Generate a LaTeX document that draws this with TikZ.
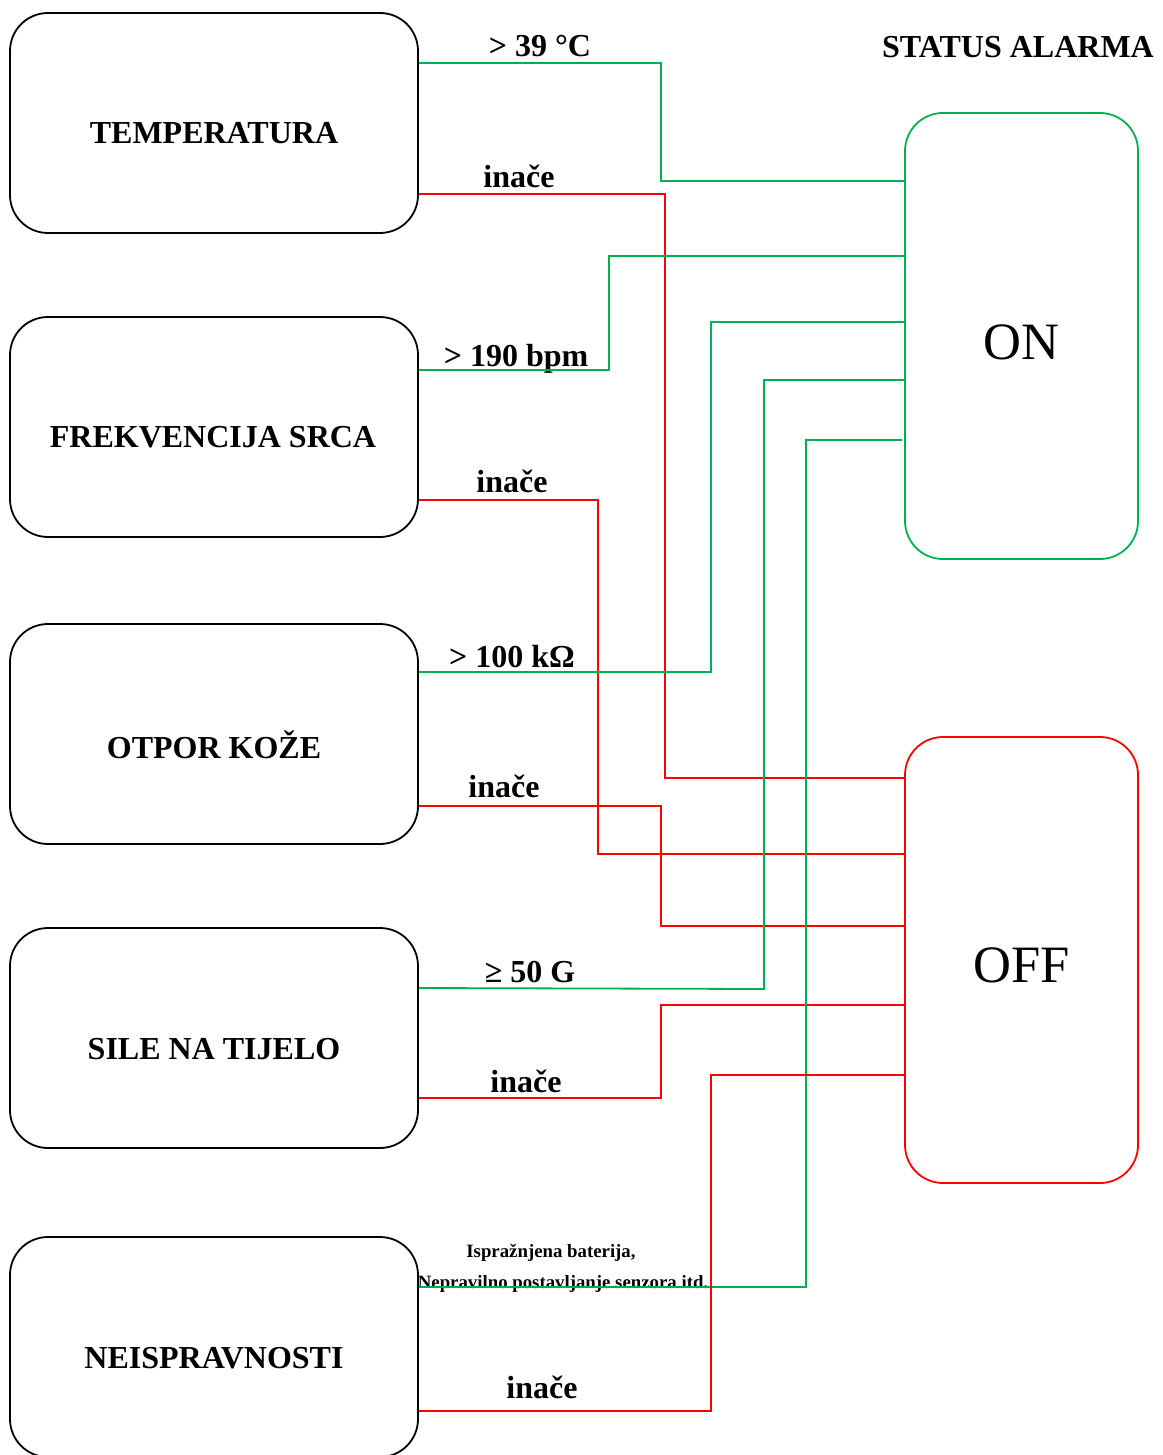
\documentclass[tikz,border=0pt]{standalone}
\usepackage{fontspec}
\setmainfont{Liberation Serif}
\definecolor{okgreen}{HTML}{00B050}
\definecolor{offred}{HTML}{FF0000}
\begin{document}
\begin{tikzpicture}[x=1pt,y=-1pt,
  box/.style={draw=black, line width=1.8pt, rounded corners=38pt, minimum width=408pt, minimum height=220pt, inner sep=0pt},
  statebox/.style={line width=1.8pt, rounded corners=38pt, minimum width=233pt, minimum height=446pt, inner sep=0pt},
  boxtxt/.style={font=\fontsize{32}{36}\selectfont\bfseries, inner sep=0pt},
  lbl/.style={font=\fontsize{32}{36}\selectfont\bfseries, inner sep=0pt, anchor=base},
  small/.style={font=\fontsize{18.8}{22}\selectfont\bfseries, inner sep=0pt, anchor=base},
  big/.style={font=\fontsize{52.5}{60}\selectfont, inner sep=0pt},
  gline/.style={draw=okgreen, line width=1.8pt},
  rline/.style={draw=offred, line width=1.8pt}]
\useasboundingbox (0,0) rectangle (1162,1455);
\clip (0,0) rectangle (1162,1455);

% source boxes
\node[box] (temp) at (214,123) {};
\node[box] (frek) at (214,427) {};
\node[box] (otpor) at (214,734) {};
\node[box] (sile) at (214,1038) {};
\node[box] (neis) at (214,1347) {};
\node[boxtxt] (tempT) at (214,133) {TEMPERATURA};
\node[boxtxt] (frekT) at (213,437) {FREKVENCIJA SRCA};
\node[boxtxt] (otporT) at (214,745) {OTPOR KOŽE};
\node[boxtxt] (sileT) at (214,1049) {SILE NA TIJELO};
\node[boxtxt] (neisT) at (214,1358) {NEISPRAVNOSTI};

% state boxes
\node[statebox, draw=okgreen] (on) at (1021.5,336) {};
\node[statebox, draw=offred] (off) at (1021.5,960) {};
\node[big] (onT) at (1021,342) {ON};
\node[big] (offT) at (1022,965) {OFF};
\node[lbl] (title) at (1018,58) {STATUS ALARMA};

% labels
\node[lbl] (l1) at (540,57) {> 39 °C};
\node[lbl] (l2) at (519,188) {inače};
\node[lbl] (l3) at (516,366) {> 190 bpm};
\node[lbl] (l4) at (512,492) {inače};
\node[lbl] (l5) at (512,667) {> 100 kΩ};
\node[lbl] (l6) at (504,797) {inače};
\node[lbl] (l7) at (530,982) {≥ 50 G};
\node[lbl] (l8) at (526,1092) {inače};
\node[small] (l9) at (551,1257) {Ispražnjena baterija,};
\node[small] (l10) at (563,1288) {Nepravilno postavljanje senzora itd.};
\node[lbl] (l11) at (542,1398) {inače};

% connectors
\draw[gline] (temp.east |- 0,63) -| (661,181) -- (on.west |- 0,181);
\draw[rline] (temp.east |- 0,194) -| (665,778) -- (off.west |- 0,778);
\draw[gline] (frek.east |- 0,370) -| (609,256) -- (on.west |- 0,256);
\draw[rline] (frek.east |- 0,500) -| (598,854) -- (off.west |- 0,854);
\draw[gline] (otpor.east |- 0,672) -| (711,322) -- (on.west |- 0,322);
\draw[rline] (otpor.east |- 0,806) -| (661,926) -- (off.west |- 0,926);
\draw[gline] (sile.east |- 0,988) -- (764,989) -- (764,380) -- (on.west |- 0,380);
\draw[rline] (sile.east |- 0,1098) -| (661,1005) -- (off.west |- 0,1005);
\coordinate (g5end) at ([xshift=-2pt]on.west |- 0,440);
\draw[gline] (neis.east |- 0,1287) -| (806,440) -- (g5end);
\draw[rline] (neis.east |- 0,1411) -| (711,1075) -- (off.west |- 0,1075);
\end{tikzpicture}
\end{document}
